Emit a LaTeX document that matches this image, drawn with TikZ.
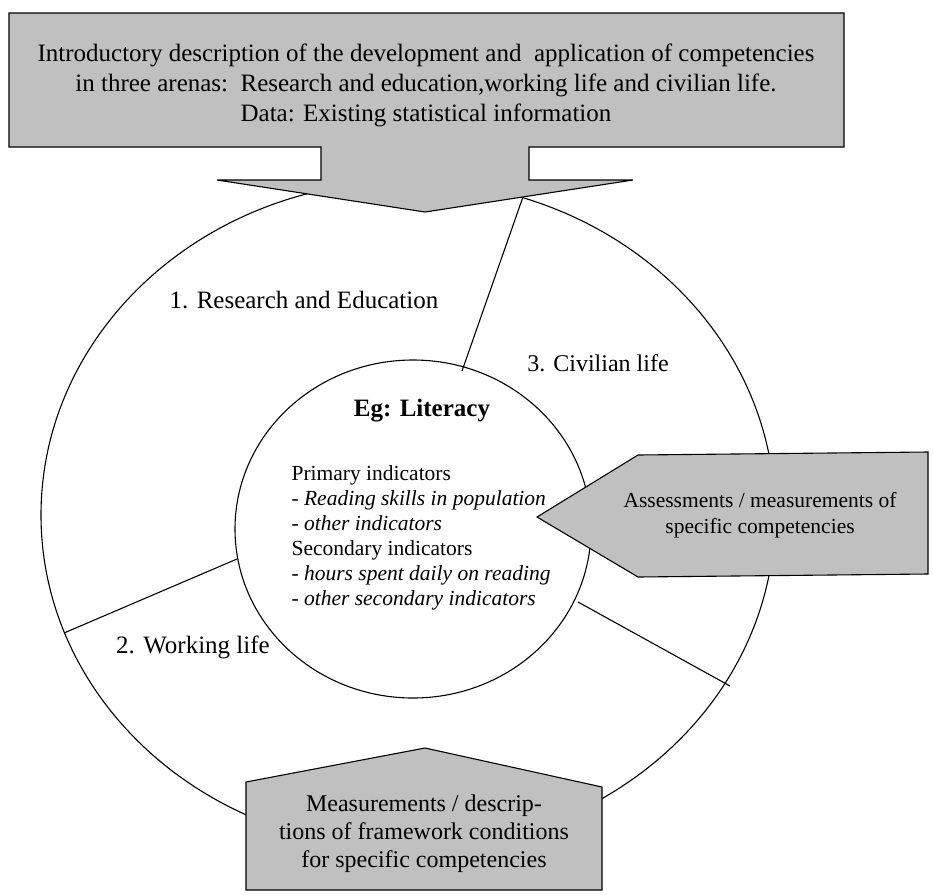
\documentclass[tikz,border=0pt]{standalone}
\usepackage{fontspec}
\setmainfont{Liberation Serif}
\definecolor{shade}{HTML}{C0C0C0}
\begin{document}
\begin{tikzpicture}[x=1pt,y=-1pt,line width=1.1pt,
  shapebox/.style={draw=black,fill=shade,line join=miter},
  ring/.style={draw=black},
  divider/.style={draw=black},
  arenalbl/.style={font=\fontsize{25}{30}\selectfont,inner sep=0pt},
  bigtxt/.style={font=\fontsize{25}{30}\selectfont,inner sep=0pt,align=center},
  midtxt/.style={font=\fontsize{21.5}{26}\selectfont,inner sep=0pt,align=center},
  listtxt/.style={font=\fontsize{21.5}{25}\selectfont,inner sep=0pt,align=left},
  boxtxt/.style={font=\fontsize{24}{28}\selectfont,inner sep=0pt,align=center}]
\useasboundingbox (0,0) rectangle (933,894);
\fill[white] (0,0) rectangle (933,894);

% rings
\draw[ring] (408,515) ellipse [x radius=367, y radius=334];
\draw[ring] (413,529) ellipse [x radius=178, y radius=169];

% divider end points
\coordinate (t1) at (524,194);
\coordinate (t2) at (462,371);
\coordinate (l1) at (237,559);
\coordinate (l2) at (64,633);
\coordinate (r1) at (578,602);
\coordinate (r2) at (730,686);
\draw[divider] (t1) -- (t2);
\draw[divider] (l1) -- (l2);
\draw[divider] (r1) -- (r2);

% top arrow box
\draw[shapebox] (9,13) -- (844,13) -- (844,147) -- (529,147) -- (529,180) -- (633,180)
  -- (425,212) -- (217,180) -- (321,180) -- (321,147) -- (9,147) -- cycle;
\node[bigtxt] (intro) at (426,85) {Introductory description of the development and\ \ application of competencies\\
in three arenas:\ \ Research and education,working life and civilian life.\\
Data: Existing statistical information};

% right arrow
\draw[shapebox] (537,517) -- (638,455) -- (928,452) -- (928,574) -- (638,577) -- cycle;
\node[midtxt] (assess) at (760,515) {Assessments / measurements of\\specific competencies};

% bottom box
\draw[shapebox] (246,782) -- (425,748) -- (602,787) -- (602,890) -- (246,890) -- cycle;
\node[boxtxt] (frame) at (424,834) {Measurements / descrip-\\tions of framework conditions\\for specific competencies};

% labels
\node[arenalbl] (a1) at (304,300) {1. Research and Education};
\node[arenalbl,font=\fontsize{24}{29}\selectfont] (a3) at (598,363) {3. Civilian life};
\node[arenalbl] (a2) at (193,647) {2. Working life};
\node[arenalbl,font=\fontsize{25}{30}\selectfont\bfseries] (eg) at (422,411) {Eg: Literacy};
\node[listtxt,anchor=west] (list) at (291,537.5) {Primary indicators\\
- \textit{Reading skills in population}\\
- \textit{other indicators}\\
Secondary indicators\\
- \textit{hours spent daily on reading}\\
- \textit{other secondary indicators}};
\end{tikzpicture}
\end{document}
